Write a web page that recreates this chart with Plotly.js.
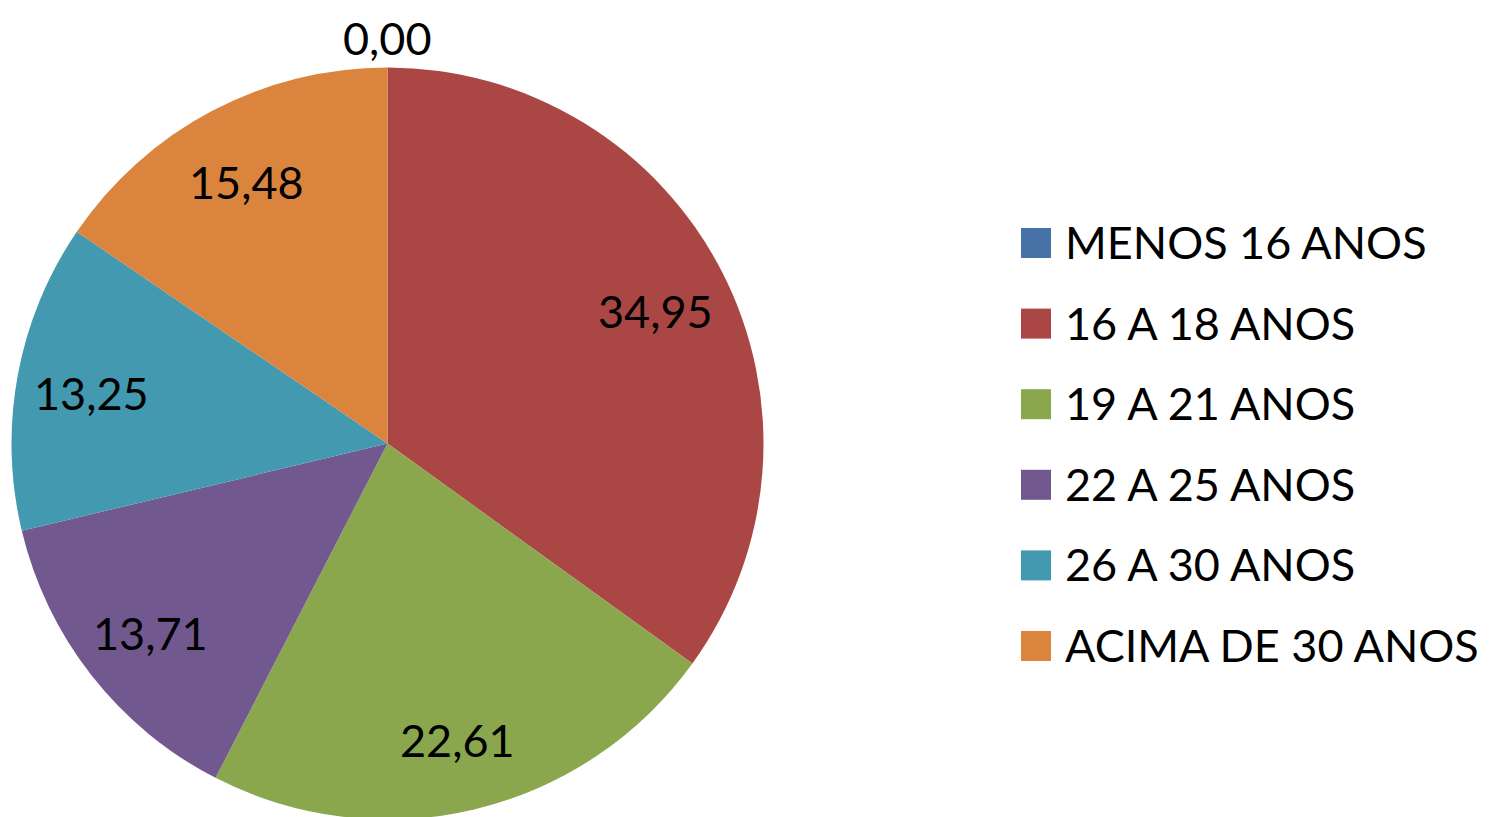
<!DOCTYPE html>
<html><head><meta charset="utf-8">
<script src="https://cdn.plot.ly/plotly-3.0.1.min.js"></script>
<style>html,body{margin:0;padding:0;overflow:hidden;background:#fff}</style>
</head><body><div id="chart" style="width:1491px;height:820px"></div>
<script>
const categories = ["MENOS 16 ANOS","16 A 18 ANOS","19 A 21 ANOS","22 A 25 ANOS","26 A 30 ANOS","ACIMA DE 30 ANOS"];
const values = [0.00, 34.95, 22.61, 13.71, 13.25, 15.48];
const colors = ["#4672A8","#AA4744","#8AA74E","#71598F","#4299B0","#DB843D"];

const FONT = "Lato, 'Open Sans', sans-serif";
const W = 1491, H = 820;
// pie geometry (pixels) from its domain
const dom = {x: [11.5/W, 763.5/W], y: [0, (H-67)/H]};
const cx = (dom.x[0]+dom.x[1])/2*W;
const cyUp = (dom.y[0]+dom.y[1])/2*H;        // from bottom
const R = Math.min((dom.x[1]-dom.x[0])*W, (dom.y[1]-dom.y[0])*H)/2;

const fmt = v => v.toFixed(2).replace(".", ",");
const total = values.reduce((a,b)=>a+b,0);
const annotations = [];
const shapes = [];
let cum = 0;
values.forEach((v,i) => {
  const mid = (cum + v/2)/total*2*Math.PI;  // clockwise from top
  cum += v;
  const f = v > 0 ? 0.80 : 1.09;
  const px = cx + f*R*Math.sin(mid);
  const py = cyUp + f*R*Math.cos(mid) - 4;
  annotations.push({x: px/W, y: py/H, xref: "paper", yref: "paper",
    xanchor: "center", yanchor: "middle", showarrow: false, text: fmt(v),
    font: {family: FONT, size: 45, color: "#000"}});
});
// legend
const legTop = 243, legStep = 80.6, sq = 30, sqX = 1021, txX = 1063;
categories.forEach((c,i) => {
  const yc = legTop + i*legStep;
  shapes.push({type: "rect", xref: "paper", yref: "paper",
    x0: sqX/W, x1: (sqX+sq)/W, y0: 1-(yc+sq/2)/H, y1: 1-(yc-sq/2)/H,
    fillcolor: colors[i], line: {width: 0}});
  annotations.push({x: txX/W, y: 1-(yc-1)/H, xref: "paper", yref: "paper",
    xanchor: "left", yanchor: "middle", showarrow: false, text: c,
    font: {family: FONT, size: 45, color: "#000"}});
});

Plotly.newPlot("chart", [{
  type: "pie",
  labels: categories,
  values: values,
  sort: false,
  direction: "clockwise",
  rotation: 0,
  marker: {colors: colors, line: {width: 0}},
  textinfo: "none",
  textposition: "none",
  domain: dom,
  hoverinfo: "label+value",
  showlegend: false
}], {
  width: W, height: H,
  margin: {l: 0, r: 0, t: 0, b: 0},
  separators: ",.",
  paper_bgcolor: "#fff",
  font: {family: FONT, size: 45, color: "#000"},
  showlegend: false,
  annotations: annotations,
  shapes: shapes
}, {displayModeBar: false});
</script></body></html>
